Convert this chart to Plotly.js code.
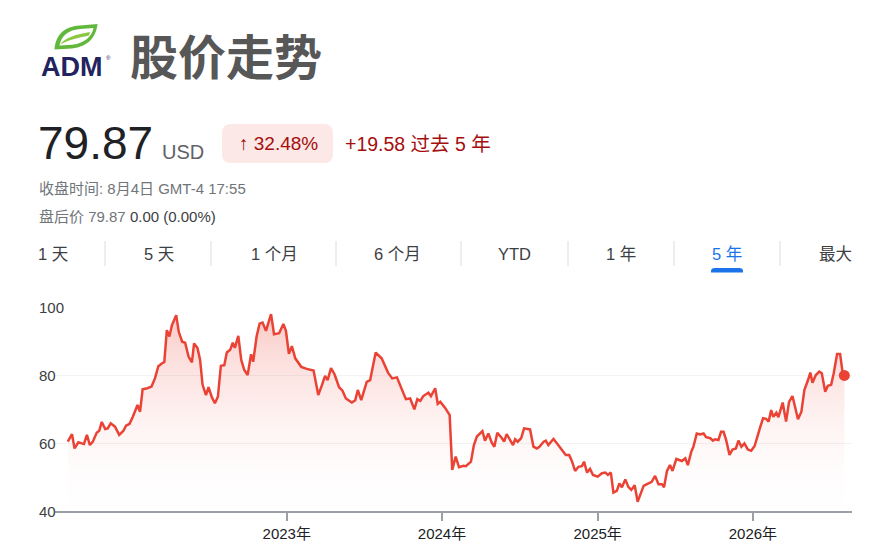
<!DOCTYPE html>
<html>
<head>
<meta charset="utf-8">
<script src="https://cdn.plot.ly/plotly-3.0.1.min.js"></script>
<style>
  html, body { margin: 0; padding: 0; background: #ffffff; }
  #chart { width: 869px; height: 554px; }
</style>
</head>
<body>
<div id="chart"></div>
<script>
// ---------------- DATA ----------------
const dates = [
  '2021-08-04','2021-08-14','2021-08-20','2021-08-29','2021-09-06','2021-09-11','2021-09-18','2021-09-25',
  '2021-10-02','2021-10-11','2021-10-17','2021-10-23','2021-10-31','2021-11-06','2021-11-13','2021-11-23',
  '2021-12-03','2021-12-13','2021-12-19','2021-12-27',
  '2022-01-04','2022-01-15','2022-01-21','2022-01-27','2022-02-07','2022-02-17','2022-02-25','2022-03-05',
  '2022-03-13','2022-03-19','2022-03-25','2022-03-31','2022-04-06','2022-04-16','2022-04-22','2022-04-30',
  '2022-05-07','2022-05-15','2022-05-23','2022-05-28','2022-06-05','2022-06-11','2022-06-17','2022-06-25',
  '2022-07-01','2022-07-09','2022-07-16','2022-07-23','2022-07-30','2022-08-07','2022-08-13','2022-08-21',
  '2022-08-27','2022-09-01','2022-09-09','2022-09-16','2022-09-23','2022-10-01','2022-10-09','2022-10-14',
  '2022-10-22','2022-10-29','2022-11-05','2022-11-13','2022-11-25','2022-12-02','2022-12-14','2022-12-24',
  '2022-12-30',
  '2023-01-06','2023-01-13','2023-01-21','2023-02-04','2023-02-17','2023-03-05','2023-03-16','2023-03-24',
  '2023-04-01','2023-04-07','2023-04-15','2023-04-23','2023-05-04','2023-05-12','2023-05-20','2023-06-03',
  '2023-06-11','2023-06-17','2023-06-25','2023-07-08','2023-07-16','2023-07-29','2023-08-12','2023-08-27',
  '2023-09-06','2023-09-17','2023-09-28','2023-10-08','2023-10-18','2023-10-28','2023-11-04','2023-11-11',
  '2023-11-18','2023-11-30','2023-12-06','2023-12-16','2023-12-22','2023-12-28',
  '2024-01-08','2024-01-19','2024-01-25','2024-02-02','2024-02-10','2024-02-20','2024-02-26','2024-03-09',
  '2024-03-16','2024-03-23','2024-04-05','2024-04-11','2024-04-19','2024-04-27','2024-05-03','2024-05-10',
  '2024-05-21','2024-05-26','2024-06-01','2024-06-09','2024-06-16','2024-06-21','2024-06-27','2024-07-05',
  '2024-07-12','2024-07-26','2024-08-03','2024-08-11','2024-08-17','2024-08-27','2024-09-01','2024-09-07',
  '2024-09-19','2024-09-27','2024-10-07','2024-10-18','2024-10-26','2024-11-01','2024-11-09','2024-11-17',
  '2024-11-25','2024-11-30','2024-12-07','2024-12-14','2024-12-21',
  '2025-01-01','2025-01-11','2025-01-19','2025-01-25','2025-02-01','2025-02-07','2025-02-15','2025-02-21',
  '2025-02-27','2025-03-07','2025-03-14','2025-03-21','2025-03-29','2025-04-05','2025-04-11','2025-04-19',
  '2025-04-27','2025-05-08','2025-05-16','2025-05-24','2025-06-01','2025-06-06','2025-06-13','2025-06-20',
  '2025-06-26','2025-07-05','2025-07-18','2025-07-26','2025-08-01','2025-08-09','2025-08-14','2025-08-22',
  '2025-08-30','2025-09-07','2025-09-13','2025-09-23','2025-09-29','2025-10-04','2025-10-12','2025-10-18',
  '2025-10-24','2025-10-30','2025-11-07','2025-11-14','2025-11-22','2025-11-28','2025-12-05','2025-12-12',
  '2025-12-20','2025-12-28',
  '2026-01-05','2026-01-10','2026-01-18','2026-01-25','2026-02-01','2026-02-07','2026-02-13','2026-02-18',
  '2026-02-25','2026-03-02','2026-03-12','2026-03-20','2026-03-27','2026-04-04','2026-04-11','2026-04-17',
  '2026-04-25','2026-05-02','2026-05-10','2026-05-16','2026-05-21','2026-05-29','2026-06-06','2026-06-12',
  '2026-06-20','2026-06-26','2026-07-04','2026-07-10','2026-07-18','2026-07-25','2026-07-31','2026-08-04'
];
const prices = [
  60.4,62.6,58.4,60.2,59.9,59.7,62.4,59.4,
  60.4,63.0,63.6,66.2,64.1,64.3,65.8,64.8,
  62.4,63.6,65.1,65.6,
  67.7,71.2,69.2,75.8,76.1,76.6,79.0,82.6,
  83.4,83.8,93.2,91.3,94.7,97.6,92.7,89.8,
  89.5,85.4,83.7,89.3,87.9,84.6,77.1,74.1,
  76.4,73.4,71.7,73.6,82.7,82.9,86.6,87.4,
  89.5,88.0,91.5,84.4,81.5,80.0,86.1,83.9,
  91.3,95.1,95.4,93.0,97.9,92.0,92.3,95.0,
  93.0,
  86.2,88.5,84.9,82.4,81.8,81.3,74.1,76.8,
  79.7,78.5,82.0,80.3,76.4,75.4,73.1,71.9,
  72.6,75.6,72.6,78.0,78.5,86.6,84.9,80.7,
  79.0,79.3,75.8,72.9,73.1,69.9,72.9,72.4,
  73.8,74.8,73.8,76.1,71.5,72.1,
  70.4,68.2,52.1,56.0,52.9,53.3,53.2,54.5,
  59.4,61.9,63.5,60.7,62.8,60.1,58.9,63.0,
  61.4,60.4,62.6,61.1,59.4,61.1,60.4,61.4,
  64.3,64.0,58.9,58.4,58.9,60.4,60.7,59.4,
  61.2,59.9,58.4,56.5,56.5,54.8,51.8,53.0,
  53.2,54.5,51.3,52.4,50.6,
  50.1,51.1,51.3,50.6,51.3,45.4,45.9,48.1,
  47.0,49.3,47.1,46.2,47.6,42.7,44.9,47.4,
  47.9,48.6,50.3,47.9,47.9,47.0,51.8,53.5,
  51.8,55.3,54.7,55.5,53.5,57.4,58.9,62.8,
  62.5,62.8,61.7,61.4,60.7,61.1,60.9,63.3,
  63.3,60.9,56.5,58.1,58.4,60.7,58.9,59.9,
  58.1,57.7,
  59.1,61.4,64.6,67.3,67.1,66.3,69.7,67.7,
  68.9,67.6,71.9,66.3,72.1,73.8,69.7,67.0,
  69.2,75.6,78.3,80.7,77.7,80.0,81.0,80.5,
  75.1,76.8,77.1,80.5,86.2,86.2,80.7,79.87
];
const yearTickDates = ['2023-01-01','2024-01-01','2025-01-01','2026-01-01'];
const yearTickLabels = ['2023年','2024年','2025年','2026年'];
const yTickValues = [40, 60, 80, 100];
const yTickLabels = ['40', '60', '80', '100'];
const tabLabels = ['1 天','5 天','1 个月','6 个月','YTD','1 年','5 年','最大'];
const activeTab = '5 年';

// ---------------- LAYOUT HELPERS ----------------
const W = 869, H = 554;
const FONT = '"Liberation Sans", Arial, "Noto Sans CJK SC", sans-serif';
const px = x => x / W;
const py = y => 1 - y / H;
function pathFrom(cmds) {
  return cmds.map(c => {
    const op = c[0];
    const nums = c.slice(1);
    const out = [];
    for (let i = 0; i < nums.length; i += 2) out.push(px(nums[i]).toFixed(5) + ',' + py(nums[i + 1]).toFixed(5));
    return op + ' ' + out.join(' ');
  }).join(' ') + ' Z';
}
function roundRect(x0, y0, x1, y1, r) {
  return pathFrom([
    ['M', x0 + r, y0], ['L', x1 - r, y0], ['Q', x1, y0, x1, y0 + r],
    ['L', x1, y1 - r], ['Q', x1, y1, x1 - r, y1], ['L', x0 + r, y1],
    ['Q', x0, y1, x0, y1 - r], ['L', x0, y0 + r], ['Q', x0, y0, x0 + r, y0]
  ]);
}
function txt(text, x, y, size, color, opts) {
  return Object.assign({
    text: text, xref: 'paper', yref: 'paper', x: px(x), y: py(y),
    xanchor: 'left', yanchor: 'middle', showarrow: false,
    font: { family: FONT, size: size, color: color }
  }, opts || {});
}

const shapes = [];
const annotations = [];

// Logo leaf
shapes.push({ type: 'path', xref: 'paper', yref: 'paper', layer: 'above',
  path: pathFrom([['M', 54.5, 49.5], ['C', 55.5, 36, 63, 26.5, 80, 25.5], ['L', 97.5, 24], ['C', 96, 37, 88.5, 46.5, 72, 48.5]]),
  fillcolor: '#62b83d', line: { width: 0 } });
shapes.push({ type: 'path', xref: 'paper', yref: 'paper', layer: 'above',
  path: pathFrom([['M', 59.5, 45.5], ['C', 61, 37, 67, 30, 80, 29], ['L', 93.5, 28], ['C', 92, 36, 85.5, 43, 72, 44.8]]),
  fillcolor: '#ffffff', line: { width: 0 } });
shapes.push({ type: 'path', xref: 'paper', yref: 'paper', layer: 'above',
  path: pathFrom([['M', 60, 44.5], ['C', 66, 37, 76, 34.5, 90, 32], ['L', 89, 35.5], ['C', 77, 38, 69, 40, 60, 44.5]]),
  fillcolor: '#8cc83f', line: { width: 0 } });
annotations.push(txt('ADM', 71.5, 66.5, 27, '#22235f', { xanchor: 'center', font: { family: FONT, size: 27, color: '#22235f', weight: 'bold' } }));
annotations.push(txt('®', 104, 58, 6, '#22235f'));

// Title
annotations.push(txt('股价走势', 128, 59, 48, '#575757', { font: { family: FONT, size: 48, color: '#575757', weight: 'bold' } }));

// Price row
annotations.push(txt('79.87', 36, 142.5, 46, '#202124'));
annotations.push(txt('USD', 160, 152, 20, '#5f6368'));
shapes.push({ type: 'path', xref: 'paper', yref: 'paper', layer: 'below',
  path: roundRect(222, 124, 333, 163, 9), fillcolor: '#fce8e6', line: { width: 0 } });
annotations.push(txt('↑ 32.48%', 278, 144, 19, '#a50e0e', { xanchor: 'center' }));
annotations.push(txt('+19.58 过去 5 年', 343, 144, 19.5, '#a50e0e'));

// Info lines
annotations.push(txt('收盘时间: 8月4日 GMT-4 17:55', 37, 189, 15, '#70757a'));
annotations.push(txt('盘后价 79.87 <span style="color:#3c4043">0.00 (0.00%)</span>', 37, 216, 15, '#70757a'));

// Tabs
const tabCenters = [53, 159, 274, 397, 514, 621, 727, 835];
const sepX = [105, 211, 336, 461, 568, 674, 780];
tabLabels.forEach((t, i) => {
  annotations.push(txt(t, tabCenters[i], 254, 16.5, t === activeTab ? '#1a73e8' : '#3c4043', { xanchor: 'center' }));
});
sepX.forEach(x => shapes.push({ type: 'line', xref: 'paper', yref: 'paper', x0: px(x), x1: px(x), y0: py(241), y1: py(266),
  line: { color: '#dadce0', width: 1 } }));
shapes.push({ type: 'path', xref: 'paper', yref: 'paper', layer: 'above',
  path: pathFrom([['M', 711, 272.5], ['L', 711, 271], ['Q', 711, 268, 715, 268], ['L', 739, 268], ['Q', 743, 268, 743, 271], ['L', 743, 272.5]]),
  fillcolor: '#1a73e8', line: { width: 0 } });

// Y tick labels (left aligned as in the reference)
yTickValues.forEach((v, i) => {
  annotations.push({ text: yTickLabels[i], xref: 'paper', yref: 'y', x: px(37), y: v, xanchor: 'left', yanchor: 'middle',
    showarrow: false, font: { family: FONT, size: 15, color: '#3c4043' } });
});

// ---------------- TRACES ----------------
const lastIdx = prices.length - 1;
const traces = [
  {
    type: 'scatter', mode: 'lines', x: dates, y: prices,
    line: { color: '#ea4335', width: 2.5 },
    fill: 'tozeroy',
    fillgradient: { type: 'vertical', start: 40, stop: 100,
      colorscale: [[0, 'rgba(234,67,53,0)'], [0.2, 'rgba(234,67,53,0.015)'], [0.45, 'rgba(234,67,53,0.07)'],
                   [0.75, 'rgba(234,67,53,0.17)'], [1, 'rgba(234,67,53,0.3)']] },
    hoverinfo: 'skip'
  },
  {
    type: 'scatter', mode: 'markers', x: [dates[lastIdx]], y: [prices[lastIdx]],
    marker: { color: '#ea4335', size: 11 }, hoverinfo: 'skip'
  }
];

const layout = {
  width: W, height: H,
  margin: { l: 0, r: 0, t: 0, b: 0 },
  paper_bgcolor: '#ffffff', plot_bgcolor: '#ffffff',
  showlegend: false,
  xaxis: {
    type: 'date', domain: [px(55), px(852)], range: ['2021-07-05', '2026-08-22'],
    showgrid: false, zeroline: false,
    showline: true, linecolor: '#9aa0a6', linewidth: 2,
    ticks: 'outside', ticklen: 8, tickwidth: 2, tickcolor: '#9aa0a6',
    tickmode: 'array', tickvals: yearTickDates, ticktext: yearTickLabels,
    tickfont: { family: FONT, size: 15, color: '#202124' },
    fixedrange: true
  },
  yaxis: {
    domain: [py(511), py(307)], range: [40, 100],
    showgrid: true, gridcolor: '#f1f3f4', gridwidth: 1,
    tickmode: 'array', tickvals: yTickValues, showticklabels: false,
    zeroline: false, showline: false, ticks: '', fixedrange: true
  },
  shapes: shapes,
  annotations: annotations
};

Plotly.newPlot('chart', traces, layout, { staticPlot: true, displayModeBar: false });
</script>
</body>
</html>
